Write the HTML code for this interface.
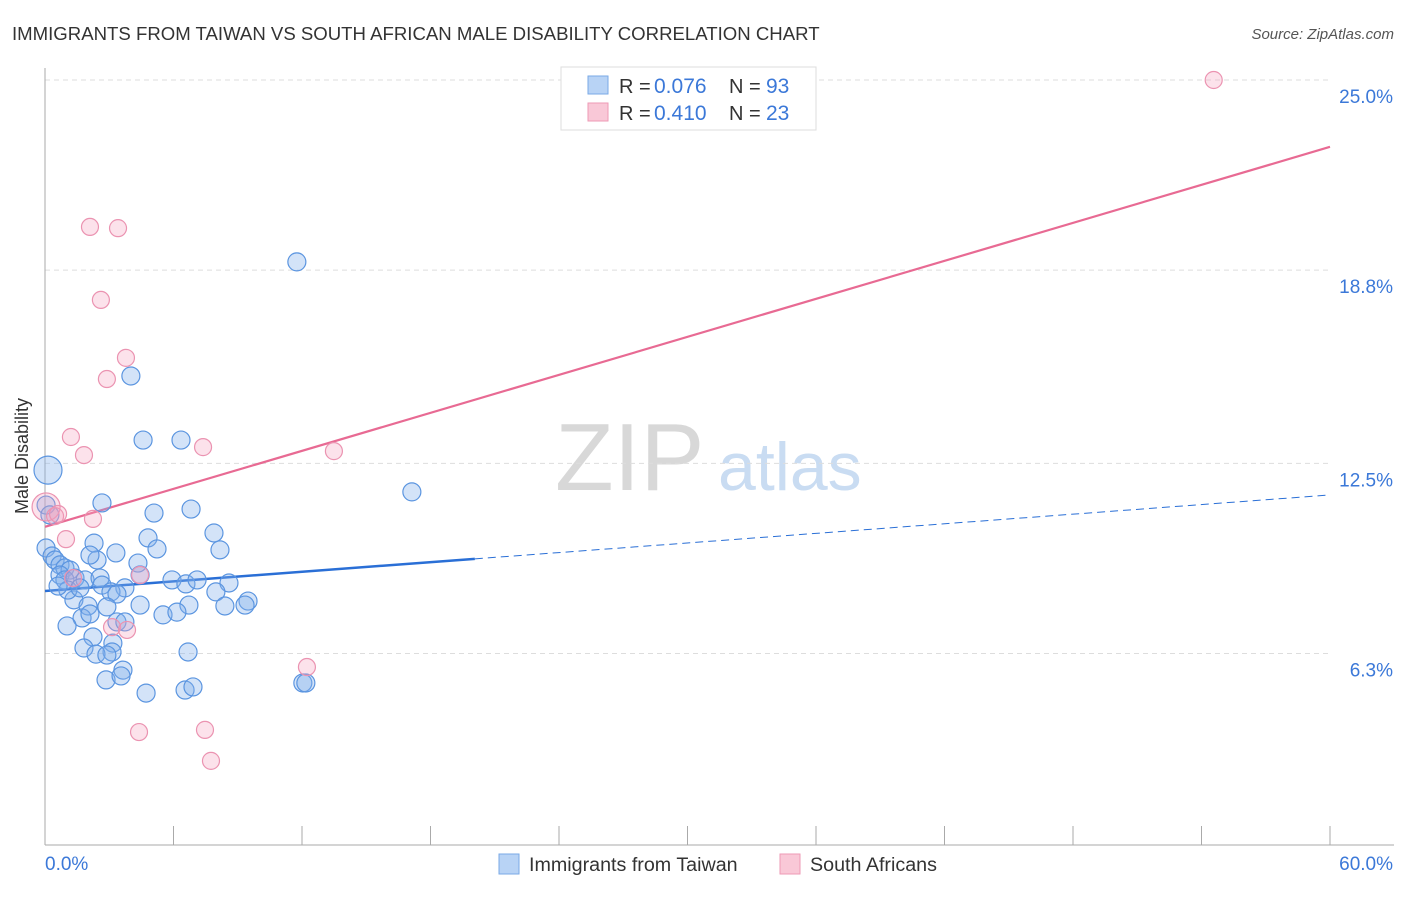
<!DOCTYPE html>
<html><head><meta charset="utf-8">
<style>
body{margin:0;background:#fff;font-family:"Liberation Sans",sans-serif;}
svg text{font-family:"Liberation Sans",sans-serif;}
</style></head>
<body>
<svg id="chart" width="1406" height="892">
<text x="12" y="40" font-size="18.6" fill="#333">IMMIGRANTS FROM TAIWAN VS SOUTH AFRICAN MALE DISABILITY CORRELATION CHART</text>
<text x="1394" y="39" font-size="15" fill="#555" font-style="italic" text-anchor="end">Source: ZipAtlas.com</text>
<g>
<text x="555" y="490" font-size="96" fill="#d8d8d8" font-family="Liberation Serif,serif">ZIP</text>
<text x="718" y="490" font-size="68" fill="#c9dcf2">atlas</text>
</g>
<g id="grid"></g><g id="axes"></g><g id="lines"></g><g id="pts"></g>
<text x="28" y="456" font-size="18" fill="#333" transform="rotate(-90 28 456)" text-anchor="middle">Male Disability</text>
<g>
<rect x="561" y="67" width="255" height="63" fill="#fff" stroke="#ddd"/>
<rect x="588" y="76" width="20" height="18" fill="#b8d3f5" stroke="#7aaae6"/>
<rect x="588" y="103" width="20" height="18" fill="#f9c8d7" stroke="#ee9ab6"/>
<text x="619" y="93" font-size="20" fill="#333">R =</text>
<text x="654" y="93" font-size="21" fill="#3b78d8">0.076</text>
<text x="729" y="93" font-size="20" fill="#333">N =</text>
<text x="766" y="93" font-size="21" fill="#3b78d8">93</text>
<text x="619" y="120" font-size="20" fill="#333">R =</text>
<text x="654" y="120" font-size="21" fill="#3b78d8">0.410</text>
<text x="729" y="120" font-size="20" fill="#333">N =</text>
<text x="766" y="120" font-size="21" fill="#3b78d8">23</text>
</g>
<g>
<rect x="499" y="854" width="20" height="20" fill="#b8d3f5" stroke="#7aaae6"/>
<text x="529" y="871" font-size="19.7" fill="#333">Immigrants from Taiwan</text>
<rect x="780" y="854" width="20" height="20" fill="#f9c8d7" stroke="#ee9ab6"/>
<text x="810" y="871" font-size="19.7" fill="#333">South Africans</text>
</g>
</svg>
<script>
const yTicks=[25.0,18.8,12.5,6.3];
const yTickLabels=["25.0%","18.8%","12.5%","6.3%"];
const xTickLabels=["0.0%","60.0%"];
const blueX=[11.76,4.01,4.58,6.35,17.13,2.66,5.09,6.82,7.89,2.29,4.81,5.23,8.17,3.31,0.05,0.33,0.47,0.70,0.93,1.17,2.43,4.34,5.93,6.58,7.10,8.59,0.14,0.05,0.70,0.93,1.40,1.87,2.57,2.66,3.73,4.44,3.08,3.36,7.98,9.48,1.35,2.01,2.89,4.44,6.72,8.40,9.34,5.51,6.16,1.73,2.10,1.03,3.36,3.73,2.24,3.17,3.13,1.82,2.38,2.89,3.64,6.68,2.85,3.55,4.72,6.54,6.91,12.04,12.18,1.07,0.61,1.63,0.23,2.10];
const blueY=[19.07,15.35,13.26,13.26,11.57,11.21,10.88,11.01,10.23,9.90,10.07,9.71,9.68,9.58,9.74,9.48,9.35,9.19,9.09,9.02,9.35,9.25,8.70,8.57,8.70,8.60,12.28,11.14,8.86,8.70,8.76,8.70,8.76,8.53,8.44,8.86,8.31,8.24,8.31,8.01,8.05,7.85,7.82,7.88,7.88,7.85,7.88,7.56,7.65,7.46,7.59,7.20,7.33,7.33,6.84,6.64,6.35,6.48,6.28,6.25,5.76,6.35,5.44,5.57,5.01,5.11,5.21,5.34,5.34,8.37,8.50,8.44,10.82,9.51];
const pinkX=[54.57,2.10,3.41,2.61,3.78,2.89,1.21,1.82,7.38,13.49,0.05,0.47,0.61,2.24,0.98,4.44,1.31,3.13,3.83,12.23,4.39,7.47,7.75];
const pinkY=[25.0,20.21,20.17,17.83,15.94,15.25,13.36,12.77,13.03,12.90,11.08,10.78,10.85,10.69,10.03,8.86,8.76,7.16,7.07,5.86,3.74,3.81,2.80];
const blueTrend=[8.34,11.47];
const blueSolidEnd=[20.07];
const pinkTrend=[10.43,22.82];
const NS="http://www.w3.org/2000/svg";
const X=v=>45+v*(1285/60), Y=v=>80+(25-v)*30.67;
function mk(tag,attrs,parent){const e=document.createElementNS(NS,tag);for(const k in attrs)e.setAttribute(k,attrs[k]);document.getElementById(parent).appendChild(e);return e;}
yTicks.forEach((t,i)=>{
 const g=mk('line',{x1:45,x2:1330,y1:Y(t),y2:Y(t),stroke:'#ddd','stroke-dasharray':'5,4'},'grid');
 
 
 const l=mk('text',{x:1393,y:Y(t)+23,'font-size':19,fill:'#3b78d8','text-anchor':'end'},'axes');
 l.textContent=yTickLabels[i];
 
 
});
const ax=mk('line',{x1:45,x2:1394,y1:845,y2:845,stroke:'#aaa'},'axes');


const ay=mk('line',{x1:45,x2:45,y1:68,y2:845,stroke:'#aaa'},'axes');


for(let i=0;i<=10;i++){const t=mk('line',{x1:X(i*6),x2:X(i*6),y1:826,y2:845,stroke:'#aaa'},'axes');
 
 }
xTickLabels.forEach((s,i)=>{const t=mk('text',{x:i?1393:45,y:870,'font-size':19,fill:'#3b78d8','text-anchor':i?'end':'start'},'axes');t.textContent=s;
 
 });
const bAt=v=>blueTrend[0]+(blueTrend[1]-blueTrend[0])*v/60;
const l1=mk('line',{x1:X(0),y1:Y(bAt(0)),x2:X(blueSolidEnd[0]),y2:Y(bAt(blueSolidEnd[0])),stroke:'#2a6fd6','stroke-width':2.5},'lines');


const l2=mk('line',{x1:X(blueSolidEnd[0]),y1:Y(bAt(blueSolidEnd[0])),x2:X(60),y2:Y(bAt(60)),stroke:'#2a6fd6','stroke-width':1,'stroke-dasharray':'8,5'},'lines');


const l3=mk('line',{x1:X(0),y1:Y(pinkTrend[0]),x2:X(60),y2:Y(pinkTrend[1]),stroke:'#e86a93','stroke-width':2.2},'lines');


blueX.forEach((x,i)=>{const c=mk('circle',{cx:X(x),cy:Y(blueY[i]),r:(x<0.2&&blueY[i]>12)?14:9,fill:'rgba(130,175,235,0.35)',stroke:'#5b95e0','stroke-width':1.2},'pts');
 
 });
pinkX.forEach((x,i)=>{const c=mk('circle',{cx:X(x),cy:Y(pinkY[i]),r:(x<0.1)?14:8.5,fill:'rgba(245,160,190,0.3)',stroke:'#eb93b1','stroke-width':1.2},'pts');
 
 });
</script>
</body></html>
